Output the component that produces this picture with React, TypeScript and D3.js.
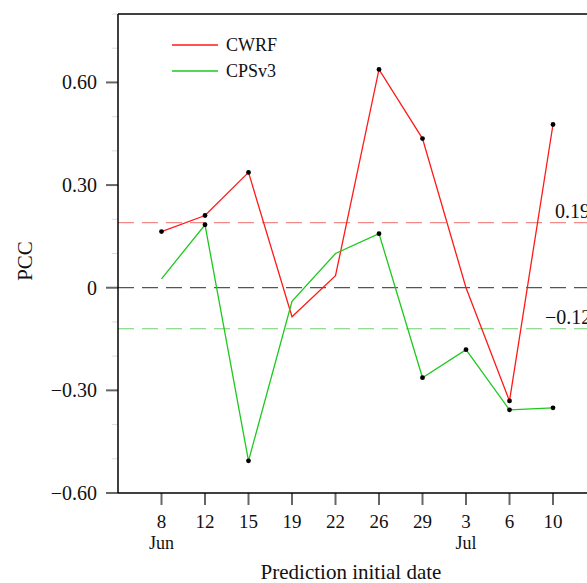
import React from "react";
import * as d3 from "d3";

const dates = ["8", "12", "15", "19", "22", "26", "29", "3", "6", "10"];
const months = [
  { label: "Jun", index: 0 },
  { label: "Jul", index: 7 },
];
const cwrf = [0.164, 0.211, 0.337, -0.085, 0.035, 0.638, 0.436, 0.0, -0.331, 0.477];
const cwrfDots = [true, true, true, false, false, true, true, false, true, true];
const cps = [0.026, 0.184, -0.506, -0.04, 0.1, 0.158, -0.263, -0.181, -0.357, -0.351];
const cpsDots = [false, true, true, false, false, true, true, true, true, true];
const majorTicks = [-0.6, -0.3, 0, 0.3, 0.6];
const majorLabels = ["\u22120.60", "\u22120.30", "0", "0.30", "0.60"];
const minorTicks = [-0.5, -0.4, -0.2, -0.1, 0.1, 0.2, 0.4, 0.5, 0.7, 0.8];
const refLines = [
  { value: 0.19, label: "0.19", color: "#f28a8a" },
  { value: 0, label: "", color: "#555555" },
  { value: -0.12, label: "\u22120.12", color: "#6fd06f" },
];
const series = [
  { name: "CWRF", values: cwrf, dots: cwrfDots, color: "#ff1a1a" },
  { name: "CPSv3", values: cps, dots: cpsDots, color: "#1ec81e" },
];

const W = 587;
const H = 583;
const left = 118;
const top = 14;
const bottom = 493;
const font = "'Liberation Serif', 'Times New Roman', serif";

export default function App() {
  const x = d3.scaleLinear().domain([-1, 9]).range([left, 553]);
  const y = d3.scaleLinear().domain([-0.6, 0.8]).range([bottom, top]);
  const line = d3
    .line<number>()
    .x((_, i) => x(i))
    .y((d) => y(d));

  return (
    <svg
      width={W}
      height={H}
      style={{ position: "absolute", left: 0, top: 0, background: "#fff" }}
      fontFamily={font}
    >
      {/* reference lines */}
      {refLines.map((r) => (
        <line
          key={r.value}
          x1={left}
          x2={W}
          y1={y(r.value)}
          y2={y(r.value)}
          stroke={r.color}
          strokeWidth={1.2}
          strokeDasharray="16 8"
        />
      ))}
      {refLines
        .filter((r) => r.label)
        .map((r) => (
          <text
            key={r.label}
            x={r.value > 0 ? 555 : 545}
            y={y(r.value) - 5}
            fontSize={20}
            fill="#111"
          >
            {r.label}
          </text>
        ))}

      {/* minor ticks */}
      {minorTicks.map((t) => (
        <line key={t} x1={112} x2={left} y1={y(t)} y2={y(t)} stroke="#dddddd" strokeWidth={1} />
      ))}
      {/* major ticks */}
      {majorTicks.map((t, i) => (
        <g key={t}>
          <line x1={106} x2={left} y1={y(t)} y2={y(t)} stroke="#666" strokeWidth={2} />
          <text x={97} y={y(t)} textAnchor="end" dominantBaseline="central" fontSize={20} fill="#111">
            {majorLabels[i]}
          </text>
        </g>
      ))}

      {/* x ticks */}
      {dates.map((d, i) => (
        <g key={i}>
          <line x1={x(i)} x2={x(i)} y1={bottom} y2={bottom + 12} stroke="#666" strokeWidth={2} />
          <text x={x(i)} y={528} textAnchor="middle" fontSize={19} fill="#111">
            {d}
          </text>
        </g>
      ))}
      {months.map((m) => (
        <text key={m.label} x={x(m.index)} y={549} textAnchor="middle" fontSize={18} fill="#111">
          {m.label}
        </text>
      ))}

      {/* frame */}
      <line x1={left} x2={left} y1={top} y2={bottom} stroke="#000" strokeWidth={1.5} />
      <line x1={left} x2={W} y1={bottom} y2={bottom} stroke="#000" strokeWidth={1.5} />
      <line x1={left} x2={W} y1={top} y2={top} stroke="#000" strokeWidth={1.5} />

      {/* series */}
      {series.map((s) => (
        <path key={s.name} d={line(s.values) || ""} fill="none" stroke={s.color} strokeWidth={1.3} />
      ))}
      {series.map((s) =>
        s.values.map((v, i) =>
          s.dots[i] ? <circle key={s.name + i} cx={x(i)} cy={y(v)} r={2.4} fill="#000" /> : null
        )
      )}

      {/* legend */}
      {series.map((s, i) => (
        <g key={s.name}>
          <line x1={172} x2={218} y1={45 + i * 26} y2={45 + i * 26} stroke={s.color} strokeWidth={1.5} />
          <text x={226} y={51 + i * 26} fontSize={18} fill="#111">
            {s.name}
          </text>
        </g>
      ))}

      {/* axis titles */}
      <text x={351} y={579} textAnchor="middle" fontSize={21} fill="#111">
        Prediction initial date
      </text>
      <text
        transform={`translate(32, 261) rotate(-90)`}
        textAnchor="middle"
        fontSize={21}
        fill="#111"
      >
        PCC
      </text>
    </svg>
  );
}
